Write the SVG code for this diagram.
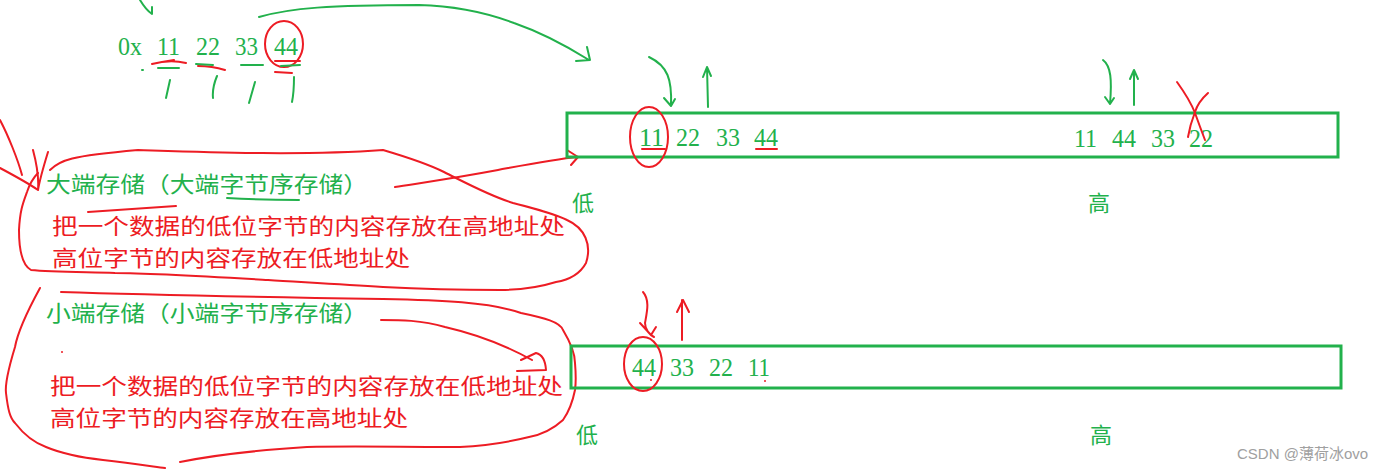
<svg xmlns="http://www.w3.org/2000/svg" width="1399" height="471" viewBox="0 0 1399 471">
<style>
.g{fill:#22b14c}
.r{fill:#ed1c24}
.num{font-family:"Liberation Serif",serif;font-size:25px}
.cjk{font-family:"Noto Sans CJK SC",sans-serif;font-size:22px}
.gs{fill:none;stroke:#22b14c;stroke-width:2;stroke-linecap:round;stroke-linejoin:round}
.rs{fill:none;stroke:#ed1c24;stroke-width:2;stroke-linecap:round;stroke-linejoin:round}
.box{fill:none;stroke:#22b14c;stroke-width:3}
.wm{font-family:"Liberation Sans","Noto Sans CJK SC",sans-serif;font-size:15px;fill:#a0a0a0}
</style>
<rect width="1399" height="471" fill="#fff"/>

<g id="source-number">
<path class="gs" d="M140,0 Q146,10 152,14 L152,7"/>
<text class="num g" x="118" y="55" textLength="24" lengthAdjust="spacingAndGlyphs">0x</text>
<text class="num g" x="157" y="55" textLength="23" lengthAdjust="spacingAndGlyphs">11</text>
<text class="num g" x="196" y="55" textLength="24" lengthAdjust="spacingAndGlyphs">22</text>
<text class="num g" x="235" y="55" textLength="23" lengthAdjust="spacingAndGlyphs">33</text>
<text class="num g" x="274" y="55" textLength="24" lengthAdjust="spacingAndGlyphs">44</text>
<ellipse class="rs" cx="284" cy="44" rx="19" ry="23"/>
<path class="rs" d="M152,64 Q170,59 186,63 M162,62 L174,60 M198,66 Q212,66 225,70 M275,61 L300,61 M275,72 L292,73"/>
<path class="gs" d="M158,68 L179,68 M196,64 L213,65 M241,65 L263,65 M281,66 L300,65 M142,70 L143,70"/>
<path class="gs" d="M170,80 L166,98 M217,76 Q212,88 213,98 M255,82 L249,103 M294,77 Q294,92 292,102"/>
</g>

<g id="connectors">
<path class="gs" d="M259,17 C290,8 330,5 419,5 C460,6 490,14 514,23 C540,32 565,45 589,60 M587,47 L590,60 L576,61"/>
<path class="gs" d="M649,57 C668,66 672,80 671,105 M664,98 L671,106 L675,99"/>
<path class="gs" d="M708,107 L707,67 M703,77 L707,67 L711,76"/>
<path class="gs" d="M1103,60 C1111,66 1112,80 1110,104 M1105,97 L1110,104 L1114,98"/>
<path class="gs" d="M1134,105 L1134,70 M1130,79 L1134,70 L1138,79"/>
<path class="rs" d="M395,187 C420,183 450,179 498,170 C530,164 555,159 578,157 M567,150 L578,157 L571,165"/>
<path class="rs" d="M381,320 C400,320 421,320 445,327 C480,335 505,345 532,360 M521,360 L536,353 Q545,355 546,370 L517,371"/>
<path class="rs" d="M643,292 C650,300 647,312 645,323 C645,330 650,335 654,337 M640,323 L651,335 L656,327"/>
<path class="rs" d="M682,340 L682,300 M677,312 L683,300 L689,312"/>
</g>

<g id="big-endian-box">
<rect class="box" x="567" y="113" width="771" height="44"/>
<text class="num g" x="639" y="146" textLength="25" lengthAdjust="spacingAndGlyphs">11</text>
<text class="num g" x="676" y="146" textLength="24" lengthAdjust="spacingAndGlyphs">22</text>
<text class="num g" x="716" y="146" textLength="24" lengthAdjust="spacingAndGlyphs">33</text>
<text class="num g" x="754" y="146" textLength="24" lengthAdjust="spacingAndGlyphs">44</text>
<path class="rs" d="M642,149 L665,149 M756,149 L777,149"/>
<ellipse class="rs" cx="649" cy="137" rx="19" ry="30"/>
<text class="num g" x="1074" y="147" textLength="23" lengthAdjust="spacingAndGlyphs">11</text>
<text class="num g" x="1112" y="147" textLength="24" lengthAdjust="spacingAndGlyphs">44</text>
<text class="num g" x="1151" y="147" textLength="24" lengthAdjust="spacingAndGlyphs">33</text>
<text class="num g" x="1189" y="147" textLength="24" lengthAdjust="spacingAndGlyphs">22</text>
<path class="rs" d="M1177,82 Q1190,100 1195,113 Q1200,127 1205,140 M1208,93 Q1198,102 1195,112 Q1190,125 1188,137"/>
<text class="cjk g" x="572" y="211">低</text>
<text class="cjk g" x="1088" y="211">高</text>
</g>

<g id="big-endian-note">
<path class="rs" d="M0,120 C8,135 18,160 22,175 M0,168 C15,176 28,183 38,190 M33,150 C37,165 39,178 38,190 M48,152 C44,165 40,178 38,190"/>
<path class="rs" d="M50,170 C60,160 70,156 138,150 C200,152 300,156 383,150 C410,158 430,165 444,172 C470,185 490,196 513,203 C540,210 555,214 567,220 C585,228 592,245 586,263 C580,274 568,280 556,282 C540,287 520,290 500,290 C460,290 420,289 383,287 C340,284 300,282 268,280 C200,276 150,273 115,273 C80,272 50,272 31,270 C22,265 19,250 19,230 C20,210 23,203 27,192 C30,183 35,176 38,173"/>
<text class="cjk g" x="46" y="192" textLength="322" lengthAdjust="spacingAndGlyphs">大端存储（大端字节序存储）</text>
<path class="gs" d="M227,198 Q260,200 299,200" stroke-width="3"/>
<path class="rs" d="M88,212 L176,206"/>
<text class="cjk r" x="52" y="234" textLength="513" lengthAdjust="spacingAndGlyphs">把一个数据的低位字节的内容存放在高地址处</text>
<text class="cjk r" x="52" y="266" textLength="358" lengthAdjust="spacingAndGlyphs">高位字节的内容存放在低地址处</text>
</g>

<g id="little-endian-note">
<path class="rs" d="M40,288 C28,310 18,330 15,347 C8,370 5,385 6,393 C8,410 10,418 15,423 C25,436 35,443 46,447 C65,455 85,458 103,460 C130,463 150,466 165,468"/>
<path class="rs" d="M61,292 C150,295 260,297 383,299 C440,300 490,302 521,313 C545,318 560,322 563,330 C572,345 575,355 575,363 C576,375 576,383 575,390 C572,405 568,413 563,420 C552,430 540,435 529,437 C505,443 480,446 460,447 C400,447 350,446 307,447 C260,450 215,455 180,462"/>
<text class="cjk g" x="46" y="321" textLength="322" lengthAdjust="spacingAndGlyphs">小端存储（小端字节序存储）</text>
<circle cx="62" cy="352" r="1" fill="#ed1c24"/>
<text class="cjk r" x="50" y="394" textLength="513" lengthAdjust="spacingAndGlyphs">把一个数据的低位字节的内容存放在低地址处</text>
<text class="cjk r" x="50" y="426" textLength="358" lengthAdjust="spacingAndGlyphs">高位字节的内容存放在高地址处</text>
</g>

<g id="little-endian-box">
<rect class="box" x="571" y="346" width="770" height="42"/>
<text class="num g" x="632" y="376" textLength="24" lengthAdjust="spacingAndGlyphs">44</text>
<text class="num g" x="670" y="376" textLength="24" lengthAdjust="spacingAndGlyphs">33</text>
<text class="num g" x="709" y="376" textLength="24" lengthAdjust="spacingAndGlyphs">22</text>
<text class="num g" x="748" y="376" textLength="22" lengthAdjust="spacingAndGlyphs">11</text>
<ellipse class="rs" cx="643" cy="364" rx="19" ry="27"/>
<circle cx="651" cy="380" r="1" fill="#ed1c24"/>
<circle cx="765" cy="381" r="1" fill="#ed1c24"/>
<text class="cjk g" x="576" y="443">低</text>
<text class="cjk g" x="1090" y="443">高</text>
</g>

<text class="wm" x="1237" y="459">CSDN @薄荷冰ovo</text>
</svg>
